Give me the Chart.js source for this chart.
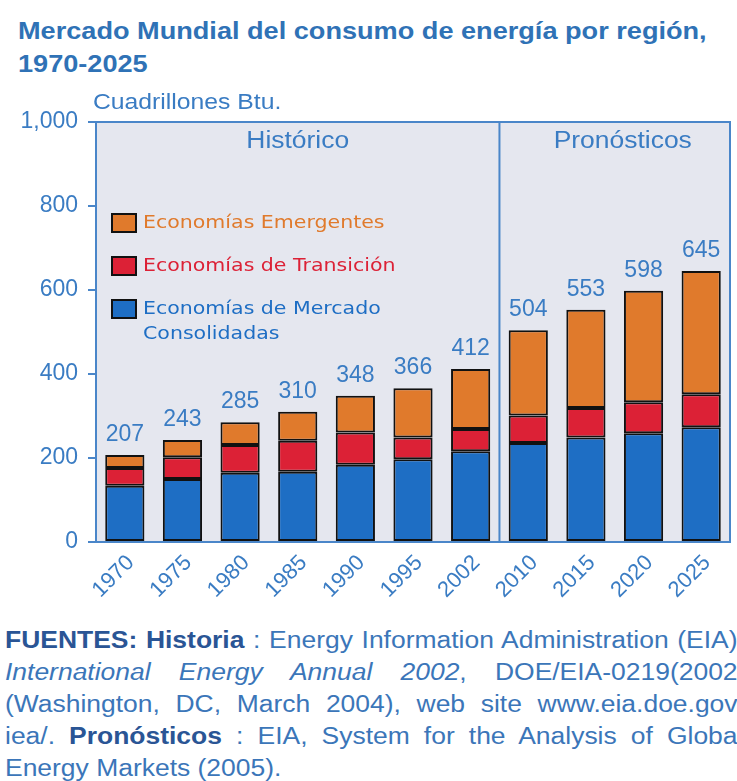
<!DOCTYPE html>
<html>
<head>
<meta charset="utf-8">
<script src="https://cdn.jsdelivr.net/npm/chart.js@4.4.1/dist/chart.umd.min.js"></script>
<style>
  body { margin: 0; background: #ffffff; width: 737px; height: 781px; overflow: hidden; position: relative; font-family: "Liberation Sans", Arial, sans-serif; }
  .ancho { transform: scaleX(1.15); transform-origin: 0 0; }
  #title { position: absolute; left: 18px; top: 14px; font-size: 24px; font-weight: bold; color: #2f72b6; line-height: 33px; white-space: nowrap; transform: scaleX(1.13); transform-origin: 0 0; }
  #unit { position: absolute; left: 93px; top: 90px; font-size: 21.5px; color: #3a7cc3; white-space: nowrap; }
  #chart { position: absolute; left: 0; top: 0; }
  #fuentes { position: absolute; left: 5px; top: 624px; width: 637px; font-size: 23px; line-height: 32px; color: #3b76b9; }
  #fuentes div { text-align: justify; text-align-last: justify; white-space: nowrap; }
  #fuentes div.last { text-align-last: left; }
  #fuentes b { color: #2a5595; }
</style>
</head>
<body>
<div id="title">Mercado Mundial del consumo de energía por región,<br>1970-2025</div>
<canvas id="chart" width="737" height="620"></canvas>
<div id="unit" class="ancho">Cuadrillones Btu.</div>
<div id="fuentes" class="ancho">
  <div><b>FUENTES: Historia</b> : Energy Information Administration (EIA)</div>
  <div><i>International Energy Annual 2002</i>, DOE/EIA-0219(2002</div>
  <div>(Washington, DC, March 2004), web site www.eia.doe.gov</div>
  <div>iea/. <b>Pronósticos</b> : EIA, System for the Analysis of Globa</div>
  <div class="last">Energy Markets (2005).</div>
</div>
<script>
// años y valores (cuadrillones de Btu)
var years = ['1970','1975','1980','1985','1990','1995','2002','2010','2015','2020','2025'];
var consolidadas = [134,150,165,167,184,197,216,236,249,259,273];
var transicion = [42,52,66,74,77,52,53,65,70,74,79];
var emergentes = [31,41,54,69,87,117,143,203,234,265,293];
var totales = [207,243,285,310,348,366,412,504,553,598,645];
var yTicks = [0,200,400,600,800,1000];
var lastHistorico = 6; // indice de 2002

var axisBlue = '#4a86c9';
var textBlue = '#3a7cc3';
var colNaranja = '#e07a2c';
var colRojo = '#dc2136';
var colAzul = '#1e6ec4';

// texto algo ensanchado, como en el original
function texto(ctx, s, x, y, sx) {
  ctx.save();
  ctx.translate(x, y);
  ctx.scale(sx, 1);
  ctx.fillText(s, 0, 0);
  ctx.restore();
}

var extras = {
  id: 'extras',
  beforeDatasetsDraw: function(chart) {
    var ctx = chart.ctx, a = chart.chartArea;
    ctx.save();
    ctx.fillStyle = '#e5e7ef';
    ctx.fillRect(a.left, a.top, a.right - a.left, a.bottom - a.top);
    ctx.restore();
  },
  afterDatasetsDraw: function(chart) {
    var ctx = chart.ctx, a = chart.chartArea;
    var x = chart.scales.x, y = chart.scales.y;
    ctx.save();
    // marco
    ctx.strokeStyle = axisBlue;
    ctx.lineWidth = 2;
    ctx.strokeRect(a.left, a.top, a.right - a.left, a.bottom - a.top);
    // division historico / pronosticos
    var xd = (x.getPixelForValue(lastHistorico) + x.getPixelForValue(lastHistorico + 1)) / 2;
    ctx.beginPath();
    ctx.moveTo(xd, a.top);
    ctx.lineTo(xd, a.bottom);
    ctx.stroke();

    ctx.fillStyle = textBlue;
    ctx.font = '23px "Liberation Sans", Arial, sans-serif';
    ctx.textAlign = 'center';
    ctx.textBaseline = 'middle';
    texto(ctx, 'Histórico', (a.left + xd) / 2, a.top + 20, 1.15);
    texto(ctx, 'Pronósticos', (xd + a.right) / 2 + 8, a.top + 20, 1.15);

    // totales
    ctx.font = '23px "Liberation Sans", Arial, sans-serif';
    ctx.textBaseline = 'bottom';
    for (var i = 0; i < totales.length; i++) {
      ctx.fillText(String(totales[i]), x.getPixelForValue(i), y.getPixelForValue(totales[i]) - 9);
    }

    // leyenda
    var items = [
      {c: colNaranja, t: ['Economías Emergentes']},
      {c: colRojo, t: ['Economías de Transición']},
      {c: colAzul, t: ['Economías de Mercado', 'Consolidadas']}
    ];
    ctx.font = '18px "DejaVu Sans", Verdana, sans-serif';
    ctx.textAlign = 'left';
    ctx.textBaseline = 'middle';
    var ly = 223;
    items.forEach(function(it) {
      ctx.fillStyle = it.c;
      ctx.fillRect(112, ly - 9, 24, 18);
      ctx.strokeStyle = '#111111';
      ctx.lineWidth = 2;
      ctx.strokeRect(112, ly - 9, 24, 18);
      it.t.forEach(function(line, k) {
        texto(ctx, line, 143, ly + k * 25, 1.14);
      });
      ly += 43;
    });
    ctx.restore();
  }
};

new Chart(document.getElementById('chart'), {
  type: 'bar',
  data: {
    labels: years,
    datasets: [
      {label: 'Economías de Mercado Consolidadas', data: consolidadas, backgroundColor: colAzul},
      {label: 'Economías de Transición', data: transicion, backgroundColor: colRojo},
      {label: 'Economías Emergentes', data: emergentes, backgroundColor: colNaranja}
    ]
  },
  options: {
    responsive: false,
    animation: false,
    locale: 'en-US',
    layout: {padding: {top: 122, left: 0, right: 7, bottom: 0}},
    datasets: {
      bar: {borderColor: '#111111', borderWidth: 2, borderSkipped: false, barPercentage: 0.68, categoryPercentage: 1.0}
    },
    plugins: {legend: {display: false}, tooltip: {enabled: false}},
    scales: {
      x: {
        stacked: true,
        grid: {display: true, drawOnChartArea: false, drawTicks: false},
        border: {display: true, color: axisBlue, width: 2},
        ticks: {color: textBlue, font: {size: 22, family: '"Liberation Sans", Arial, sans-serif'}, minRotation: 45, maxRotation: 45, padding: 8, labelOffset: 6},
        afterFit: function(s) { s.height = 78; }
      },
      y: {
        stacked: true,
        min: 0,
        max: 1000,
        afterBuildTicks: function(s) { s.ticks = yTicks.map(function(v) { return {value: v}; }); },
        grid: {display: true, drawOnChartArea: false, drawTicks: true, tickLength: 8, color: axisBlue, lineWidth: 2},
        border: {display: true, color: axisBlue, width: 2},
        ticks: {color: textBlue, font: {size: 23, family: '"Liberation Sans", Arial, sans-serif'}, padding: 10},
        afterFit: function(s) { s.width = 96; }
      }
    }
  },
  plugins: [extras]
});
</script>
</body>
</html>
